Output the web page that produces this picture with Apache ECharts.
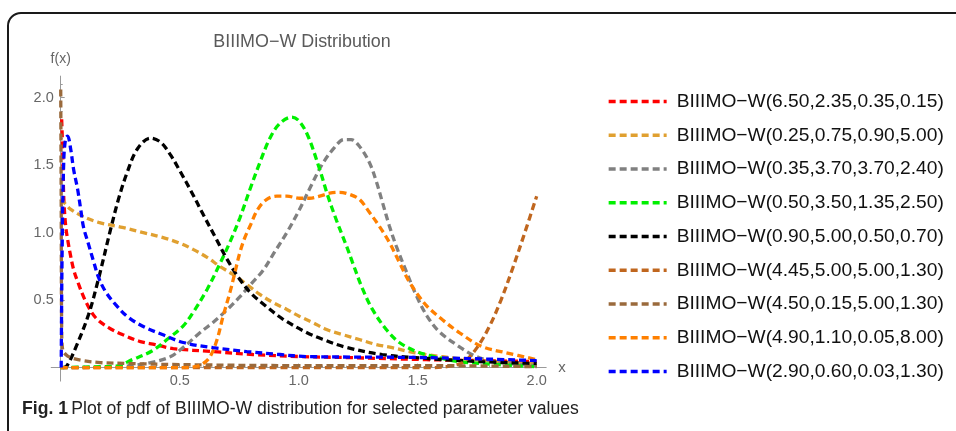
<!DOCTYPE html>
<html>
<head>
<meta charset="utf-8">
<script src="https://cdn.jsdelivr.net/npm/echarts@6/dist/echarts.min.js"></script>
<style>
  html, body { margin: 0; padding: 0; background: #ffffff; }
  #chart { width: 956px; height: 431px; }
</style>
</head>
<body>
<div id="chart"></div>
<script>
// Legend labels, one per curve
const curveNames = [
  'BIIIMO\u2212W(6.50,2.35,0.35,0.15)',
  'BIIIMO\u2212W(0.25,0.75,0.90,5.00)',
  'BIIIMO\u2212W(0.35,3.70,3.70,2.40)',
  'BIIIMO\u2212W(0.50,3.50,1.35,2.50)',
  'BIIIMO\u2212W(0.90,5.00,0.50,0.70)',
  'BIIIMO\u2212W(4.45,5.00,5.00,1.30)',
  'BIIIMO\u2212W(4.50,0.15,5.00,1.30)',
  'BIIIMO\u2212W(4.90,1.10,0.05,8.00)',
  'BIIIMO\u2212W(2.90,0.60,0.03,1.30)'
];

// Sampled pdf values [x, f(x)] for each parameter set
const pdfA = [[0.004,1.84],[0.008,1.62],[0.013,1.25],[0.021,1.047],[0.029,0.95],[0.042,0.824],[0.054,0.728],[0.071,0.638],[0.105,0.49],[0.146,0.371],[0.201,0.297],[0.259,0.245],[0.335,0.193],[0.397,0.171],[0.473,0.141],[0.64,0.119],[0.808,0.097],[1.004,0.082],[1.213,0.074],[1.536,0.059],[1.757,0.052],[2.0,0.045]];
const pdfB = [[0.0,1.25],[0.021,1.21],[0.042,1.173],[0.092,1.121],[0.159,1.076],[0.259,1.039],[0.343,1.002],[0.427,0.965],[0.502,0.921],[0.556,0.876],[0.615,0.817],[0.669,0.75],[0.724,0.69],[0.782,0.616],[0.837,0.542],[0.891,0.483],[0.95,0.431],[1.004,0.379],[1.059,0.334],[1.117,0.282],[1.184,0.245],[1.255,0.208],[1.326,0.171],[1.393,0.148],[1.464,0.119],[1.536,0.097],[1.674,0.067],[1.841,0.045],[2.0,0.03]];
const pdfC = [[0.0,0.0],[0.25,0.007],[0.377,0.037],[0.46,0.08],[0.515,0.15],[0.586,0.26],[0.64,0.335],[0.7,0.43],[0.75,0.52],[0.8,0.62],[0.85,0.72],[0.9,0.86],[0.95,1.0],[1.0,1.16],[1.05,1.34],[1.1,1.51],[1.15,1.63],[1.19,1.69],[1.22,1.69],[1.255,1.64],[1.297,1.52],[1.326,1.38],[1.351,1.23],[1.381,1.05],[1.41,0.9],[1.452,0.713],[1.494,0.535],[1.54,0.38],[1.59,0.267],[1.674,0.156],[1.736,0.09],[1.799,0.052],[1.883,0.03],[2.0,0.015]];
const pdfD = [[0.0,0.0],[0.167,0.007],[0.23,0.01],[0.301,0.059],[0.385,0.125],[0.452,0.215],[0.515,0.31],[0.556,0.408],[0.615,0.579],[0.669,0.77],[0.711,0.93],[0.753,1.11],[0.795,1.32],[0.837,1.52],[0.879,1.7],[0.921,1.81],[0.971,1.856],[1.0,1.83],[1.038,1.72],[1.088,1.47],[1.121,1.28],[1.159,1.09],[1.201,0.9],[1.226,0.78],[1.268,0.585],[1.31,0.431],[1.368,0.282],[1.423,0.186],[1.494,0.119],[1.548,0.09],[1.674,0.045],[1.841,0.022],[2.0,0.007]];
const pdfE = [[0.01,0.0],[0.025,0.01],[0.063,0.148],[0.117,0.393],[0.159,0.66],[0.209,1.02],[0.243,1.25],[0.28,1.45],[0.322,1.62],[0.377,1.7],[0.42,1.67],[0.46,1.58],[0.5,1.46],[0.55,1.3],[0.6,1.13],[0.65,0.965],[0.7,0.8],[0.75,0.66],[0.8,0.55],[0.866,0.45],[0.933,0.36],[1.033,0.26],[1.1,0.21],[1.2,0.15],[1.351,0.097],[1.536,0.068],[1.757,0.045],[2.0,0.03]];
const pdfF = [[0.0,0.0],[0.5,0.0],[1.0,0.0],[1.55,0.0],[1.65,0.015],[1.7,0.05],[1.75,0.15],[1.8,0.3],[1.85,0.5],[1.9,0.74],[1.95,1.0],[2.0,1.27]];
const pdfG = [[0.0,2.06],[0.002,1.25],[0.004,0.28],[0.008,0.134],[0.021,0.097],[0.042,0.074],[0.092,0.052],[0.167,0.037],[0.293,0.03],[0.502,0.022],[1.0,0.015],[1.5,0.015],[2.0,0.007]];
const pdfH = [[0.0,0.0],[0.5,0.0],[0.565,0.007],[0.598,0.03],[0.628,0.082],[0.657,0.208],[0.682,0.379],[0.711,0.557],[0.732,0.705],[0.753,0.854],[0.774,0.965],[0.795,1.047],[0.828,1.173],[0.866,1.247],[0.908,1.27],[0.95,1.27],[1.004,1.255],[1.046,1.255],[1.088,1.27],[1.13,1.292],[1.172,1.299],[1.213,1.284],[1.255,1.247],[1.297,1.151],[1.339,1.047],[1.381,0.928],[1.423,0.78],[1.464,0.638],[1.506,0.527],[1.54,0.453],[1.603,0.356],[1.674,0.26],[1.77,0.156],[1.87,0.111],[2.0,0.059]];
const pdfI = [[0.002,0.0],[0.006,0.876],[0.013,1.544],[0.021,1.7],[0.029,1.715],[0.042,1.618],[0.054,1.47],[0.071,1.321],[0.084,1.173],[0.096,1.039],[0.117,0.913],[0.138,0.787],[0.159,0.668],[0.188,0.564],[0.23,0.468],[0.285,0.371],[0.356,0.297],[0.427,0.245],[0.515,0.186],[0.64,0.148],[0.782,0.119],[0.921,0.097],[1.033,0.082],[1.536,0.074],[2.0,0.052]];

const curveData = [pdfA, pdfB, pdfC, pdfD, pdfE, pdfF, pdfG, pdfH, pdfI];

// Axis ticks
const xTickValues = [0.5, 1.0, 1.5, 2.0];
const yTickValues = [0.5, 1.0, 1.5, 2.0];
const xMinorTicks = [0.1,0.2,0.3,0.4,0.6,0.7,0.8,0.9,1.1,1.2,1.3,1.4,1.6,1.7,1.8,1.9];
const yMinorTicks = [0.1,0.2,0.3,0.4,0.6,0.7,0.8,0.9,1.1,1.2,1.3,1.4,1.6,1.7,1.8,1.9,2.1];

const curveColors = ['#ff0000', '#e0a030', '#808080', '#00f000', '#000000',
                     '#c0661e', '#9a6a3c', '#ff8000', '#0000ff'];

const axisGray = '#9a9a9a';
const labelGray = '#666666';
const fontFamily = '"Liberation Sans", Arial, Helvetica, sans-serif';

// Plot window: x from -0.04 to 2.04, y from -0.1 to 2.16
const X_MIN = -0.04, X_MAX = 2.04, Y_MIN = -0.1, Y_MAX = 2.16;
const grid = { left: 51.2, top: 76.1, width: 495, height: 305 };
// Shift the axes so they cross at the origin instead of the grid edges
const yAxisShift = -(0 - X_MIN) / (X_MAX - X_MIN) * grid.width;
const xAxisShift = -(0 - Y_MIN) / (Y_MAX - Y_MIN) * grid.height;

const chart = echarts.init(document.getElementById('chart'), null, { renderer: 'canvas' });

const series = curveNames.map((name, i) => ({
  name: name,
  type: 'line',
  xAxisIndex: 0,
  yAxisIndex: 0,
  data: curveData[i],
  symbol: 'none',
  smooth: 0.35,
  clip: false,
  silent: true,
  lineStyle: { color: curveColors[i], width: 3.3, type: [7, 4] },
  itemStyle: { color: curveColors[i] },
  z: 3 + i
}));

chart.setOption({
  animation: false,
  backgroundColor: '#ffffff',
  title: {
    text: 'BIIIMO\u2212W Distribution',
    left: 297,
    top: 28,
    textAlign: 'center',
    textStyle: { fontFamily: fontFamily, fontSize: 17.9, fontWeight: 'normal', color: '#5a5a5a' }
  },
  legend: {
    orient: 'vertical',
    left: 607,
    top: 92,
    padding: 0,
    itemWidth: 58,
    itemHeight: 14,
    itemGap: 14.75,
    selectedMode: false,
    itemStyle: { opacity: 0 },
    lineStyle: { width: 3.3 },
    textStyle: { fontFamily: fontFamily, fontSize: 19.2, color: '#111111', padding: [0, 0, 0, 5] },
    data: curveNames
  },
  grid: grid,
  xAxis: [{
    type: 'value',
    min: X_MIN,
    max: X_MAX,
    position: 'bottom',
    offset: xAxisShift,
    name: 'x',
    nameLocation: 'end',
    nameGap: 12,
    nameTextStyle: { fontFamily: fontFamily, fontSize: 15, color: labelGray, verticalAlign: 'middle' },
    axisLine: { onZero: false, lineStyle: { color: axisGray, width: 1 } },
    axisTick: { show: true, inside: true, length: 4, customValues: xTickValues, lineStyle: { color: axisGray } },
    axisLabel: { show: true, customValues: xTickValues, margin: 6, fontFamily: fontFamily, fontSize: 14.5, color: labelGray,
                 formatter: v => v.toFixed(1) },
    splitLine: { show: false }
  }, {
    type: 'value',
    min: X_MIN,
    max: X_MAX,
    position: 'bottom',
    offset: xAxisShift,
    axisLine: { show: false, onZero: false },
    axisTick: { show: true, inside: true, length: 2, customValues: xMinorTicks, lineStyle: { color: axisGray } },
    axisLabel: { show: false },
    splitLine: { show: false }
  }],
  yAxis: [{
    type: 'value',
    min: Y_MIN,
    max: Y_MAX,
    position: 'left',
    offset: yAxisShift,
    name: 'f(x)',
    nameLocation: 'end',
    nameGap: 10,
    nameTextStyle: { fontFamily: fontFamily, fontSize: 14, color: labelGray, align: 'center' },
    axisLine: { onZero: false, lineStyle: { color: axisGray, width: 1 } },
    axisTick: { show: true, inside: true, length: 4, customValues: yTickValues, lineStyle: { color: axisGray } },
    axisLabel: { show: true, customValues: yTickValues, margin: 7, fontFamily: fontFamily, fontSize: 14.5, color: labelGray,
                 formatter: v => v.toFixed(1) },
    splitLine: { show: false }
  }, {
    type: 'value',
    min: Y_MIN,
    max: Y_MAX,
    position: 'left',
    offset: yAxisShift,
    axisLine: { show: false, onZero: false },
    axisTick: { show: true, inside: true, length: 2, customValues: yMinorTicks, lineStyle: { color: axisGray } },
    axisLabel: { show: false },
    splitLine: { show: false }
  }],
  graphic: [
    {
      type: 'rect',
      shape: { x: 8, y: 13, width: 1100, height: 600, r: 13 },
      style: { fill: 'none', stroke: '#1a1a1a', lineWidth: 2 },
      silent: true,
      z: 0
    },
    {
      type: 'text',
      left: 22,
      top: 400,
      style: {
        text: '{b|Fig. 1} {n|Plot of pdf of BIIIMO-W distribution for selected parameter values}',
        rich: {
          b: { fontFamily: fontFamily, fontSize: 17.6, fontWeight: 'bold', fill: '#222222' },
          n: { fontFamily: fontFamily, fontSize: 17.6, fill: '#222222' }
        }
      },
      silent: true
    }
  ],
  series: series
});
</script>
</body>
</html>
